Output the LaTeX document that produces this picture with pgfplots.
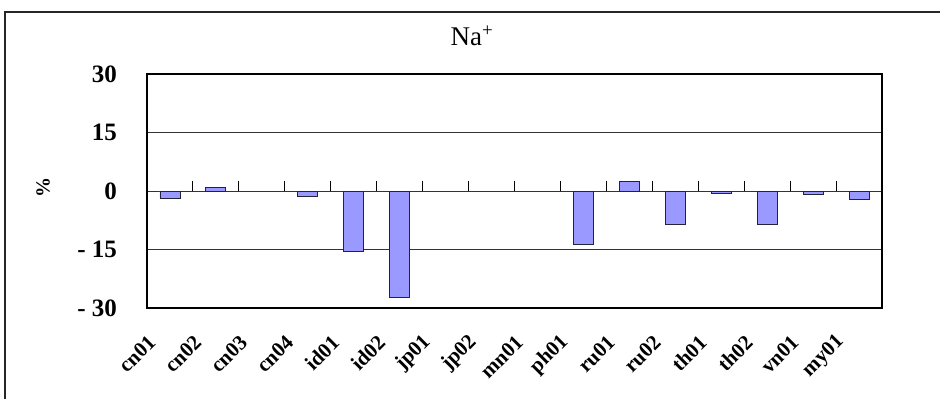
\documentclass[border=0pt]{standalone}
\usepackage{pgfplots}
\pgfplotsset{compat=1.18}
\usepackage{fontspec}
\setmainfont{Liberation Serif}
\definecolor{barfill}{HTML}{9999FF}
\definecolor{baredge}{HTML}{22223A}

% Relative change of Na+ per site (%)
\pgfplotstableread{
idx value
0  -1.9
1   0.8
3  -1.4
4  -15.6
5  -27.4
9  -13.6
10  2.4
11 -8.7
12 -0.6
13 -8.7
14 -0.85
15 -2.1
}\nadata

\begin{document}
\begin{tikzpicture}[x=1bp,y=1bp]
\useasboundingbox (0,0) rectangle (940,398);
\clip (0,0) rectangle (940,398);
% chart frame
\draw[line width=1.5bp, black!85] (5,-20) rectangle (960,386);
\begin{axis}[
  at={(147bp,90bp)}, anchor=south west,
  scale only axis, width=735bp, height=234bp,
  xmin=-0.5, xmax=15.5, ymin=-30, ymax=30,
  ytick={-30,-15,0,15,30},
  yticklabels={-\hspace{6bp}30,-\hspace{6bp}15,0,15,30},
  xtick={0,...,15},
  xticklabels={cn01,cn02,cn03,cn04,id01,id02,jp01,jp02,mn01,ph01,ru01,ru02,th01,th02,vn01,my01},
  major tick length=0pt,
  ymajorgrids,
  grid style={black!80, line width=0.9bp},
  axis line style={black, line width=1.4bp},
  yticklabel style={font=\bfseries\fontsize{25bp}{28bp}\selectfont, anchor=east, inner sep=0pt, xshift=-30bp},
  xticklabel style={font=\bfseries\fontsize{21bp}{23bp}\selectfont, inner sep=0pt, xshift=-18bp, yshift=-31bp, rotate=45, anchor=east},
  ylabel={\%},
  ylabel style={font=\bfseries\fontsize{20bp}{23bp}\selectfont, at={(axis description cs:-0.1415,0.513)}, anchor=center, rotate=0},
  title={Na\textsuperscript{+}},
  title style={font=\fontsize{27bp}{30bp}\selectfont, at={(axis description cs:0.442,1.137)}, anchor=center},
  ybar, bar width=20bp,
]
\addplot[fill=barfill, draw=baredge, line width=0.9bp] table[x=idx, y=value] {\nadata};
% category boundary ticks on the zero line
\pgfplotsinvokeforeach{0.5,1.5,...,14.5}{
  \draw[black, line width=0.9bp] (axis cs:#1,0) -- (axis cs:#1,2.6);
}
\end{axis}
\end{tikzpicture}
\end{document}
